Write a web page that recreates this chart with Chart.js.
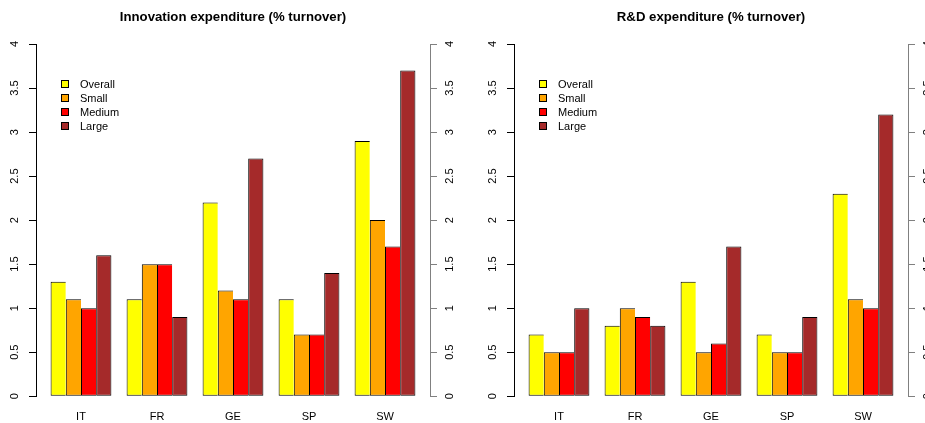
<!DOCTYPE html>
<html>
<head>
<meta charset="utf-8">
<style>
    html, body { margin: 0; padding: 0; width: 925px; height: 423px; overflow: hidden; background: #fff; }
    canvas { position: absolute; top: 0; }
</style>
<script src="https://cdn.jsdelivr.net/npm/chart.js@4/dist/chart.umd.min.js"></script>
</head>
<body>
<canvas id="innov-chart" width="478" height="437" style="left:0"></canvas>
<canvas id="rd-chart" width="478" height="437" style="left:478px"></canvas>
<script>
const countries = ["IT", "FR", "GE", "SP", "SW"];
const sizeClasses = ["Overall", "Small", "Medium", "Large"];
const barColours = ["#FFFF00", "#FFA500", "#FF0000", "#A52A2A"];

// Innovation expenditure (% turnover)
const innovOverall = [1.3, 1.1, 2.2, 1.1, 2.9];
const innovSmall = [1.1, 1.5, 1.2, 0.7, 2.0];
const innovMedium = [1.0, 1.5, 1.1, 0.7, 1.7];
const innovLarge = [1.6, 0.9, 2.7, 1.4, 3.7];

// R&D expenditure (% turnover)
const rdOverall = [0.7, 0.8, 1.3, 0.7, 2.3];
const rdSmall = [0.5, 1.0, 0.5, 0.5, 1.1];
const rdMedium = [0.5, 0.9, 0.6, 0.5, 1.0];
const rdLarge = [1.0, 0.8, 1.7, 0.9, 3.2];

const yMin = 0;
const yMax = 4;
const yStep = 0.5;

Chart.defaults.font.family = "'Liberation Sans', Arial, sans-serif";
Chart.defaults.color = "#000";

// barplot-style layout: 4 bars + 1 gap per group, range padded 4% each side
const barsPerGroup = sizeClasses.length;
const groupUnits = barsPerGroup + 1;
const spanUnits = countries.length * groupUnits - 1;
const padUnits = 0.04 * spanUnits;
const xMin = (1 - padUnits - (1 + barsPerGroup / 2)) / groupUnits;
const xMax = xMin + (spanUnits + 2 * padUnits) / groupUnits;

// legend drawn inside the plot, top-left
const insetLegend = {
    id: "insetLegend",
    afterDraw(chart) {
        const { ctx, chartArea } = chart;
        const x = Math.round(chartArea.left + 25);
        const top = Math.round(chartArea.top + 36);
        ctx.save();
        ctx.font = "11px 'Liberation Sans', Arial, sans-serif";
        ctx.textBaseline = "middle";
        ctx.textAlign = "left";
        chart.data.datasets.forEach((ds, k) => {
            const y = top + Math.round(k * 13.9);
            ctx.fillStyle = ds.backgroundColor;
            ctx.fillRect(x, y, 8, 8);
            ctx.strokeStyle = "#000";
            ctx.lineWidth = 1;
            ctx.strokeRect(x + 0.5, y + 0.5, 7, 7);
            ctx.fillStyle = "#000";
            ctx.fillText(ds.label, x + 19, y + 4.5);
        });
        ctx.restore();
    }
};

function yAxis(position, colour, padding) {
    return {
        display: true,
        position: position,
        min: yMin,
        max: yMax,
        grid: { drawOnChartArea: false, drawTicks: true, tickLength: 7, color: colour },
        border: { display: true, color: colour, width: 1 },
        ticks: {
            stepSize: yStep,
            autoSkip: false,
            minRotation: 90,
            maxRotation: 90,
            crossAlign: "center",
            padding: padding,
            color: "#000",
            font: { size: 11 },
            callback: v => String(v)
        }
    };
}

function makeChart(canvasId, title, series) {
    return new Chart(document.getElementById(canvasId), {
        type: "bar",
        data: {
            labels: countries.map((_, i) => i),
            datasets: sizeClasses.map((name, k) => ({
                label: name,
                data: series[k],
                backgroundColor: barColours[k],
                borderColor: "#000",
                borderWidth: k === barsPerGroup - 1 ? 1 : { top: 1, bottom: 1, left: 1, right: 0 },
                borderSkipped: false,
                categoryPercentage: barsPerGroup / groupUnits,
                barPercentage: 1,
                yAxisID: "y"
            }))
        },
        options: {
            responsive: false,
            animation: false,
            layout: { padding: { left: 3.8, right: 17.2, top: 9, bottom: 0 } },
            scales: {
                x: {
                    type: "linear",
                    offset: false,
                    min: xMin,
                    max: xMax,
                    bounds: "data",
                    afterBuildTicks: axis => {
                        axis.ticks = countries.map((_, i) => ({ value: i }));
                    },
                    grid: { display: false, drawTicks: false },
                    border: { display: false },
                    ticks: {
                        autoSkip: false,
                        maxRotation: 0,
                        padding: 13.8,
                        color: "#000",
                        font: { size: 11 },
                        callback: v => countries[v]
                    }
                },
                y: yAxis("left", "#000", 6),
                y2: yAxis("right", "#808080", 5.3)
            },
            plugins: {
                legend: { display: false },
                tooltip: { enabled: false },
                title: {
                    display: true,
                    text: title,
                    fullSize: false,
                    color: "#000",
                    font: { size: 13.2, weight: "bold" },
                    padding: { top: 0, bottom: 19.2 }
                }
            }
        },
        plugins: [insetLegend]
    });
}

makeChart("innov-chart", "Innovation expenditure (% turnover)",
    [innovOverall, innovSmall, innovMedium, innovLarge]);
makeChart("rd-chart", "R&D expenditure (% turnover)",
    [rdOverall, rdSmall, rdMedium, rdLarge]);
</script>
</body>
</html>
